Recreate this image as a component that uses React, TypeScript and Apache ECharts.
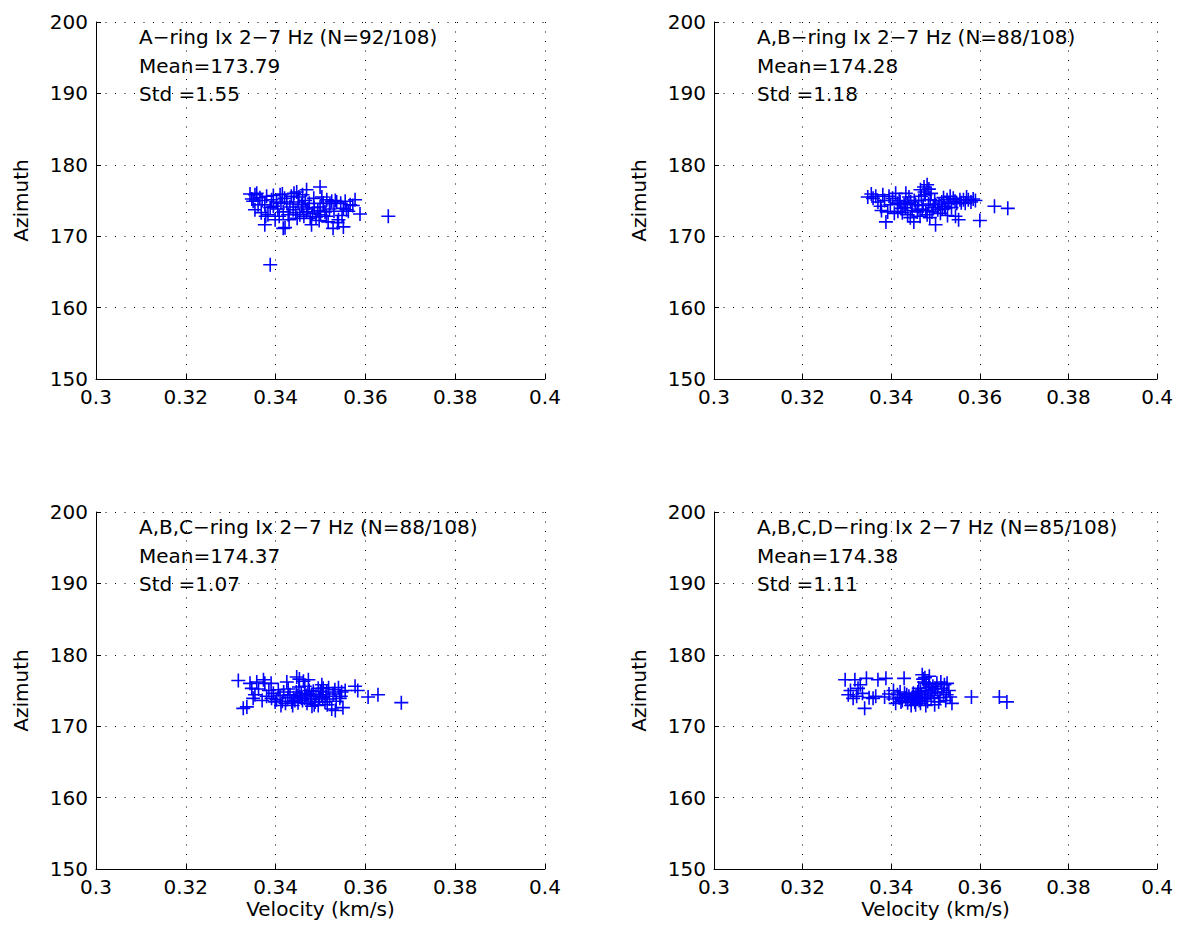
import React, { useEffect, useRef } from "react";
import * as echarts from "echarts";

// ---- data (velocity km/s, azimuth deg) ----
const ringA: number[][] = [
  [0.3343,175.9],[0.3354,175.8],[0.3365,175.4],[0.3347,175.2],[0.3354,173.7],[0.3361,174.4],[0.3376,174.4],[0.3383,173.0],[0.3376,171.6],[0.3410,175.8],[0.3391,175.1],[0.3402,174.8],[0.3399,172.3],[0.3421,171.2],[0.3417,171.1],[0.3388,166.0],[0.3447,176.2],[0.3469,176.5],[0.3499,176.9],[0.3450,174.8],[0.3439,173.7],[0.3454,173.0],[0.3477,172.5],[0.3480,171.6],[0.3514,175.1],[0.3521,174.6],[0.3499,174.1],[0.3510,173.4],[0.3517,172.0],[0.3528,171.1],[0.3536,174.8],[0.3551,173.9],[0.3558,173.7],[0.3566,174.4],[0.3577,175.1],[0.3588,173.1],[0.3651,172.8],[0.3551,171.3],[0.3540,172.3],[0.3461,174.1],[0.3469,173.4],[0.3432,174.1],[0.3425,174.8],[0.3417,173.4],
  [0.3358,176.0],[0.3370,175.0],[0.3380,175.6],[0.3395,174.2],[0.3405,173.8],[0.3412,174.6],[0.3420,175.3],[0.3428,173.0],[0.3435,175.6],[0.3440,174.5],[0.3445,173.3],[0.3452,175.5],[0.3458,174.4],[0.3463,172.8],[0.3466,175.0],[0.3472,173.8],[0.3475,174.6],[0.3482,173.2],[0.3486,174.0],[0.3490,172.7],[0.3494,173.6],[0.3503,175.5],[0.3506,174.6],[0.3513,172.8],[0.3520,173.8],[0.3525,174.9],[0.3530,173.5],[0.3533,175.0],[0.3545,174.6],[0.3548,172.9],[0.3555,174.9],[0.3562,173.5],[0.3378,172.8],[0.3395,175.7],[0.3408,172.8],[0.3430,172.3],[0.3441,176.0],[0.3460,175.8],[0.3485,175.3],[0.3497,172.2],[0.3350,174.9],[0.3368,173.3],[0.3388,174.0],[0.3415,175.9],[0.3448,172.5],[0.3538,171.9],[0.3572,174.3],[0.3500,173.0],
];

const ringAB: number[][] = [
  [0.3347,175.5],[0.3359,175.3],[0.3370,174.8],[0.3381,175.8],[0.3388,172.0],[0.3392,173.4],[0.3410,176.0],[0.3414,174.6],[0.3422,173.9],[0.3433,176.0],[0.3429,174.4],[0.3444,174.8],[0.3451,172.0],[0.3459,173.4],[0.3466,176.5],[0.3474,176.9],[0.3481,177.2],[0.3477,175.8],[0.3470,173.7],[0.3481,173.0],[0.3488,175.1],[0.3500,171.6],[0.3492,173.4],[0.3514,174.8],[0.3526,175.1],[0.3522,173.9],[0.3540,175.3],[0.3548,174.6],[0.3552,172.3],[0.3555,175.1],[0.3563,175.1],[0.3574,175.1],[0.3585,175.2],[0.3600,172.2],[0.3633,174.2],[0.3663,173.9],[0.3511,173.2],[0.3437,173.0],[0.3407,173.2],
  [0.3355,175.9],[0.3365,175.6],[0.3376,174.2],[0.3385,175.0],[0.3398,174.4],[0.3403,175.3],[0.3418,175.0],[0.3425,173.3],[0.3436,174.6],[0.3440,175.5],[0.3447,173.6],[0.3455,174.4],[0.3462,175.0],[0.3465,172.8],[0.3472,174.3],[0.3478,173.6],[0.3484,174.5],[0.3487,172.6],[0.3495,174.0],[0.3498,175.0],[0.3505,173.7],[0.3508,174.5],[0.3518,175.4],[0.3520,174.2],[0.3530,174.6],[0.3533,175.6],[0.3536,174.0],[0.3544,174.9],[0.3558,174.7],[0.3567,174.6],[0.3570,175.5],[0.3580,174.8],[0.3590,175.0],[0.3545,172.8],[0.3490,176.0],[0.3468,175.6],[0.3452,175.0],[0.3432,174.0],[0.3415,173.5],[0.3395,175.6],[0.3378,173.6],[0.3460,173.8],[0.3500,174.4],[0.3515,173.8],[0.3527,172.9],[0.3443,172.6],[0.3420,174.8],[0.3475,176.2],[0.3485,176.6],
];

const ringABC: number[][] = [
  [0.3317,176.4],[0.3343,176.0],[0.3347,175.3],[0.3373,176.5],[0.3376,176.0],[0.3354,174.4],[0.3350,173.9],[0.3328,172.5],[0.3336,172.7],[0.3406,175.1],[0.3391,173.9],[0.3399,173.4],[0.3425,176.2],[0.3432,174.4],[0.3436,173.4],[0.3447,176.9],[0.3454,174.1],[0.3465,173.9],[0.3473,176.5],[0.3480,174.4],[0.3488,173.4],[0.3503,175.8],[0.3510,173.4],[0.3514,174.8],[0.3525,172.4],[0.3503,174.4],[0.3495,175.3],[0.3532,175.1],[0.3547,174.8],[0.3550,172.6],[0.3543,173.9],[0.3577,175.6],[0.3583,175.0],[0.3606,174.1],[0.3628,174.4],[0.3680,173.3],
  [0.3362,175.2],[0.3380,174.2],[0.3385,175.0],[0.3395,174.6],[0.3402,173.7],[0.3410,174.3],[0.3415,173.5],[0.3418,174.8],[0.3422,173.2],[0.3428,175.2],[0.3440,174.0],[0.3443,173.6],[0.3446,174.8],[0.3450,173.3],[0.3452,175.5],[0.3457,174.5],[0.3460,173.6],[0.3462,176.3],[0.3468,174.3],[0.3470,173.2],[0.3475,175.0],[0.3478,173.8],[0.3484,174.9],[0.3486,173.0],[0.3490,174.2],[0.3498,173.8],[0.3500,174.9],[0.3506,175.3],[0.3512,174.2],[0.3518,175.4],[0.3520,173.8],[0.3528,174.5],[0.3535,173.5],[0.3540,175.4],[0.3555,175.0],[0.3453,176.6],[0.3465,175.6],[0.3438,172.9],[0.3412,172.9],[0.3370,173.6],[0.3358,176.2],[0.3390,176.0],[0.3481,172.8],[0.3495,172.9],[0.3533,172.2],[0.3448,174.3],[0.3458,173.9],[0.3472,174.6],[0.3427,174.0],[0.3505,174.0],[0.3515,173.0],[0.3545,174.2],
];

const ringABCD: number[][] = [
  [0.3296,176.5],[0.3318,176.5],[0.3344,176.7],[0.3303,174.4],[0.3314,173.9],[0.3325,175.3],[0.3340,172.5],[0.3359,173.9],[0.3370,176.5],[0.3388,176.7],[0.3385,174.1],[0.3429,176.7],[0.3414,174.4],[0.3422,173.4],[0.3433,173.9],[0.3448,174.1],[0.3459,173.9],[0.3470,177.2],[0.3474,176.2],[0.3466,173.2],[0.3481,174.1],[0.3485,175.8],[0.3492,175.1],[0.3503,176.0],[0.3507,173.4],[0.3514,175.3],[0.3526,176.0],[0.3533,174.1],[0.3537,173.2],[0.3581,174.1],[0.3644,174.1],[0.3661,173.4],
  [0.3308,175.0],[0.3322,174.2],[0.3330,175.8],[0.3335,174.6],[0.3350,174.0],[0.3365,174.2],[0.3395,174.5],[0.3405,173.8],[0.3410,173.2],[0.3418,174.0],[0.3425,173.6],[0.3430,174.6],[0.3437,173.3],[0.3440,174.2],[0.3444,173.7],[0.3450,174.6],[0.3453,173.4],[0.3456,174.3],[0.3460,174.8],[0.3463,173.6],[0.3468,174.4],[0.3472,176.6],[0.3475,173.8],[0.3477,175.0],[0.3479,176.0],[0.3482,173.5],[0.3484,175.4],[0.3488,174.6],[0.3490,173.9],[0.3494,175.6],[0.3497,174.3],[0.3500,175.2],[0.3505,174.8],[0.3510,174.0],[0.3518,174.7],[0.3520,175.8],[0.3523,173.6],[0.3530,175.0],[0.3470,174.0],[0.3462,175.3],[0.3455,173.0],[0.3445,172.9],[0.3435,174.4],[0.3478,172.9],[0.3498,173.0],[0.3512,176.2],[0.3525,174.4],[0.3486,177.0],[0.3476,176.8],[0.3466,174.9],[0.3452,174.0],[0.3420,174.8],[0.3405,175.0],
];

const panelSeries = [ringA, ringAB, ringABC, ringABCD];
const panelTitles = [
  "A\u2212ring Ix 2\u22127 Hz (N=92/108)",
  "A,B\u2212ring Ix 2\u22127 Hz (N=88/108)",
  "A,B,C\u2212ring Ix 2\u22127 Hz (N=88/108)",
  "A,B,C,D\u2212ring Ix 2\u22127 Hz (N=85/108)",
];
const panelMeans = ["173.79", "174.28", "174.37", "174.38"];
const panelStds = ["1.55", "1.18", "1.07", "1.11"];

const xRange = [0.3, 0.4];
const xStep = 0.02;
const yRange = [150, 200];
const yStep = 10;

const FONT = "DejaVu Sans";
const FS = 20;

const PLUS = "path://M6.2,0H7.8V14H6.2ZM0,6.2H14V7.8H0Z";

export default function App() {
  const ref = useRef<HTMLDivElement>(null);
  useEffect(() => {
    if (!ref.current) return;
    const chart = echarts.init(ref.current, undefined, { renderer: "svg" });
    const lefts = [88, 706, 88, 706];
    const tops = [14, 14, 504, 504];
    const W = 449;
    const H = 357;

    const grids = lefts.map((l, i) => ({ left: l, top: tops[i], width: W, height: H }));
    const axisCommon = {
      axisLine: { show: true, onZero: false, lineStyle: { color: "#000", width: 1 } },
      axisTick: { show: true, inside: true, length: 5, lineStyle: { color: "#000" } },
      splitLine: { show: true, lineStyle: { color: "#000", width: 1, type: [1, 8.5] } },
      axisLabel: { color: "#000", fontFamily: FONT, fontSize: FS },
      nameTextStyle: { color: "#000", fontFamily: FONT, fontSize: FS },
    };
    const xAxes = grids.map((_, i) => ({
      ...axisCommon,
      type: "value",
      gridIndex: i,
      min: xRange[0],
      max: xRange[1],
      interval: xStep,
      axisLabel: { ...axisCommon.axisLabel, margin: 8, formatter: (v: number) => String(+v.toFixed(2)) },
      name: i >= 2 ? "Velocity (km/s)" : "",
      nameLocation: "middle",
      nameGap: 30,
    }));
    const yAxes = grids.map((_, i) => ({
      ...axisCommon,
      type: "value",
      gridIndex: i,
      min: yRange[0],
      max: yRange[1],
      interval: yStep,
      axisLabel: { ...axisCommon.axisLabel, margin: 8 },
      name: "Azimuth",
      nameLocation: "middle",
      nameGap: 65,
    }));
    const series = panelSeries.map((d, i) => ({
      type: "scatter",
      xAxisIndex: i,
      yAxisIndex: i,
      data: d,
      symbol: PLUS,
      symbolSize: 14,
      itemStyle: { color: "#0000ff", opacity: 1 },
      silent: true,
    }));
    const graphic: any[] = [];
    panelTitles.forEach((t, i) => {
      const lines = [t, "Mean=" + panelMeans[i], "Std =" + panelStds[i]];
      lines.forEach((s, j) => {
        graphic.push({
          type: "text",
          left: lefts[i] + 43,
          top: tops[i] + 5 + j * 28.5,
          style: { text: s, font: `${FS}px "${FONT}"`, fill: "#000" },
        });
      });
    });

    chart.setOption({
      animation: false,
      backgroundColor: "#fff",
      grid: grids,
      xAxis: xAxes,
      yAxis: yAxes,
      series,
      graphic,
    });
    return () => chart.dispose();
  }, []);
  return <div ref={ref} style={{ width: 1168, height: 915 }} />;
}
